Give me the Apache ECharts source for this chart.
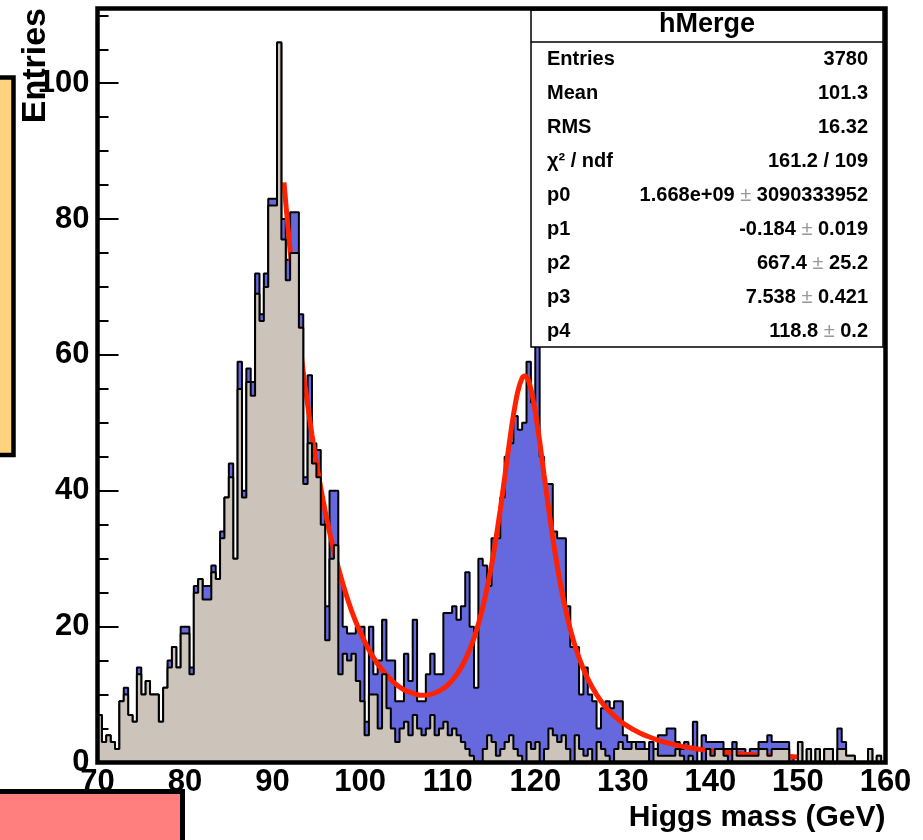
<!DOCTYPE html>
<html>
<head>
<meta charset="utf-8">
<script src="https://cdn.jsdelivr.net/npm/echarts@6/dist/echarts.min.js"></script>
<style>
  html, body { margin: 0; padding: 0; background: #fff; }
  #chart { width: 923px; height: 840px; }
</style>
</head>
<body>
<div id="chart"></div>
<script>
// hMerge: 180 bins of 0.5 GeV between 70 and 160 GeV
const binStart = 70;
const binWidth = 0.5;

// blue histogram (all entries)
const totalCounts = [
  7, 3, 4, 3, 2, 9, 11, 7, 6, 14,
  10, 12, 10, 10, 6, 11, 15, 17, 14, 20,
  20, 14, 26, 27, 26, 26, 29, 27, 34, 39,
  44, 30, 59, 40, 58, 56, 72, 66, 72, 83,
  83, 106, 80, 74, 81, 81, 66, 42, 57, 47,
  46, 38, 23, 40, 40, 27, 20, 19, 19, 20,
  20, 6, 20, 13, 15, 21, 15, 15, 9, 9,
  16, 12, 21, 9, 9, 13, 16, 13, 13, 22,
  22, 23, 21, 23, 28, 20, 11, 30, 29, 26,
  33, 33, 39, 45, 47, 51, 49, 50, 59, 53,
  62, 45, 41, 41, 34, 33, 33, 23, 17, 17,
  10, 14, 10, 9, 5, 8, 9, 8, 9, 9,
  4, 3, 3, 3, 3, 2, 3, 2, 4, 4,
  5, 5, 3, 2, 3, 2, 6, 0, 4, 3,
  3, 3, 3, 2, 2, 3, 2, 2, 1, 2,
  2, 3, 3, 4, 3, 3, 3, 3, 1, 0,
  3, 0, 2, 0, 2, 0, 2, 2, 0, 5,
  3, 1, 1, 0, 0, 0, 2, 0, 1, 0
];

// beige histogram (background only)
const bkgCounts = [
  7, 3, 4, 3, 2, 9, 10, 7, 6, 13,
  10, 12, 10, 10, 6, 11, 14, 17, 14, 19,
  19, 13, 25, 27, 24, 24, 28, 27, 33, 39,
  42, 30, 55, 39, 56, 54, 69, 65, 70, 82,
  82, 106, 77, 71, 75, 75, 64, 41, 47, 44,
  42, 35, 18, 30, 32, 13, 16, 15, 16, 12,
  9, 4, 10, 10, 5, 13, 8, 5, 3, 5,
  6, 4, 7, 5, 4, 5, 7, 4, 5, 6,
  4, 5, 4, 3, 2, 1, 0, 0, 2, 4,
  3, 1, 2, 3, 4, 2, 1, 0, 3, 2,
  3, 0, 2, 5, 4, 3, 4, 2, 0, 4,
  2, 1, 2, 0, 3, 2, 1, 0, 2, 3,
  2, 2, 3, 2, 2, 2, 0, 2, 1, 1,
  1, 1, 2, 1, 0, 1, 0, 0, 0, 2,
  1, 2, 2, 1, 0, 2, 1, 1, 1, 1,
  1, 2, 2, 1, 2, 2, 2, 2, 0, 0,
  3, 0, 2, 0, 2, 0, 2, 2, 0, 2,
  2, 1, 1, 0, 0, 0, 2, 0, 1, 0
];

// red fit curve
const fitX = [91.3, 91.5, 92, 92.5, 93, 93.5, 94, 94.5, 95,
  96, 97, 98, 99, 100, 101, 102, 103, 104, 105, 106, 107, 108, 109, 110, 111, 112, 113, 114,
  115, 115.5, 116, 116.5, 117, 117.5, 118, 118.5, 118.8, 119.2, 119.6, 120, 120.5, 121, 121.5, 122, 122.5, 123,
  124, 125, 126, 127, 128, 129, 130,
  132, 134, 136, 138, 140, 142, 144, 146, 148, 150];
const fitY = [85.4, 82.4, 75.3, 68.8, 62.9, 57.5, 52.7, 48.2, 44.1,
  37.0, 31.2, 26.4, 22.4, 19.2, 16.6, 14.5, 12.9, 11.6, 10.7, 10.2, 9.9, 10.0, 10.5, 11.4, 12.9, 15.1, 18.3, 22.8,
  29.0, 32.9, 37.2, 41.9, 46.7, 51.1, 54.6, 56.6, 56.9, 56.3, 54.4, 51.6, 47.3, 42.4, 37.6, 33.1, 29.0, 25.4,
  19.6, 15.4, 12.3, 10.0, 8.2, 6.9, 5.8,
  4.3, 3.3, 2.6, 2.1, 1.75, 1.45, 1.23, 1.06, 0.92, 0.81];

const xTicks = [70, 80, 90, 100, 110, 120, 130, 140, 150, 160];
const yTicks = [0, 20, 40, 60, 80, 100];

const statTitle = 'hMerge';
const statNames = ['Entries', 'Mean', 'RMS', 'χ² / ndf', 'p0', 'p1', 'p2', 'p3', 'p4'];
const statValues = ['3780', '101.3', '16.32', '161.2 / 109',
  '1.668e+09 {pm|±} 3090333952', '-0.184 {pm|±} 0.019', '667.4 {pm|±} 25.2',
  '7.538 {pm|±} 0.421', '118.8 {pm|±} 0.2'];

const FONT = '"Liberation Sans", Arial, sans-serif';

// outline of a histogram as a step line: points at lower bin edges
function stepData(counts) {
  const pts = [[binStart, 0]];
  counts.forEach((c, i) => pts.push([binStart + i * binWidth, c]));
  const end = binStart + counts.length * binWidth;
  pts.push([end, counts[counts.length - 1]]);
  pts.push([end, 0]);
  return pts;
}

const G = { left: 97.5, top: 8.5, right: 37.5, bottom: 77.5 };
const plotW = 923 - G.left - G.right;
const plotH = 840 - G.top - G.bottom;

const chart = echarts.init(document.getElementById('chart'));

const statsGraphics = [];
statNames.forEach((name, k) => {
  const y = 59.5 + 34 * k;
  statsGraphics.push({
    type: 'text', z: 62, x: 547, y: y,
    style: { text: name, fontFamily: FONT, fontWeight: 'bold', fontSize: 20, fill: '#000', align: 'left', verticalAlign: 'middle' }
  });
  statsGraphics.push({
    type: 'text', z: 62, x: 868, y: y,
    style: {
      text: statValues[k], fontFamily: FONT, fontWeight: 'bold', fontSize: 20, fill: '#000', align: 'right', verticalAlign: 'middle',
      rich: { pm: { fontFamily: FONT, fontSize: 20, fontWeight: 'normal', fill: '#999' } }
    }
  });
});

chart.setOption({
  animation: false,
  backgroundColor: '#fff',
  grid: { left: G.left, top: G.top, right: G.right, bottom: G.bottom, containLabel: false, outerBoundsMode: 'none' },
  xAxis: {
    type: 'value', min: xTicks[0], max: xTicks[xTicks.length - 1], interval: 10,
    axisLine: { show: false },
    axisTick: { show: false },
    splitLine: { show: false },
    axisLabel: { color: '#000', fontFamily: FONT, fontWeight: 'bold', fontSize: 31, margin: 4 },
    name: 'Higgs mass (GeV)',
    nameLocation: 'end',
    nameGap: 0,
    nameTextStyle: { color: '#000', fontFamily: FONT, fontWeight: 'bold', fontSize: 30, align: 'right', verticalAlign: 'top', padding: [40, 0, 0, 0] }
  },
  yAxis: [
    {
      type: 'value', min: 0, max: 111, interval: 20, position: 'left',
      axisLine: { show: false },
      axisTick: { inside: true, length: 21, lineStyle: { color: '#000', width: 2 } },
      splitLine: { show: false },
      axisLabel: {
        color: '#000', fontFamily: FONT, fontWeight: 'bold', fontSize: 31, margin: 8,
        formatter: v => (yTicks.indexOf(v) >= 0 ? String(v) : '')
      }
    },
    {
      type: 'value', min: 0, max: 111, interval: 5, position: 'left',
      axisLine: { show: false },
      axisTick: { inside: true, length: 11, lineStyle: { color: '#000', width: 2 } },
      splitLine: { show: false },
      axisLabel: { show: false }
    }
  ],
  series: [
    {
      name: 'total', type: 'line', step: 'end', z: 2,
      data: stepData(totalCounts),
      symbol: 'none',
      lineStyle: { color: '#000', width: 2 },
      areaStyle: { color: '#6669de', opacity: 1 },
      emphasis: { disabled: true }
    },
    {
      name: 'fit', type: 'line', z: 3, smooth: 0.3,
      data: fitX.map((x, i) => [x, fitY[i]]),
      symbol: 'none',
      lineStyle: { color: '#ff2200', width: 5 },
      emphasis: { disabled: true }
    },
    {
      name: 'background', type: 'line', step: 'end', z: 4,
      data: stepData(bkgCounts),
      symbol: 'none',
      lineStyle: { color: '#000', width: 2 },
      areaStyle: { color: '#ccc4bb', opacity: 1 },
      emphasis: { disabled: true }
    }
  ],
  graphic: [
    // stats box
    { type: 'rect', z: 60, shape: { x: 531, y: 10, width: 352, height: 337 },
      style: { fill: '#fff', stroke: '#000', lineWidth: 1.5 } },
    { type: 'line', z: 61, shape: { x1: 531, y1: 42, x2: 883, y2: 42 },
      style: { stroke: '#000', lineWidth: 1.5 } },
    { type: 'text', z: 62, x: 707, y: 25,
      style: { text: statTitle, fontFamily: FONT, fontWeight: 'bold', fontSize: 27, fill: '#000', align: 'center', verticalAlign: 'middle' } },
    ...statsGraphics,
    // frame
    { type: 'rect', z: 65, shape: { x: G.left, y: G.top, width: plotW, height: plotH },
      style: { fill: null, stroke: '#000', lineWidth: 4.5 } },
    // y axis title
    { type: 'text', z: 40, x: 36, y: 8, rotation: Math.PI / 2,
      style: { text: 'Entries', fontFamily: FONT, fontWeight: 'bold', fontSize: 34, fill: '#000', align: 'right', verticalAlign: 'middle' } },
    // boxes at the page edge
    { type: 'rect', z: 70, shape: { x: -10, y: 77.5, width: 23.5, height: 377.5 },
      style: { fill: '#ffd27f', stroke: '#000', lineWidth: 4.5 } },
    { type: 'rect', z: 70, shape: { x: -10, y: 791.5, width: 192.5, height: 80 },
      style: { fill: '#ff7f7f', stroke: '#000', lineWidth: 5 } }
  ]
});
</script>
</body>
</html>
